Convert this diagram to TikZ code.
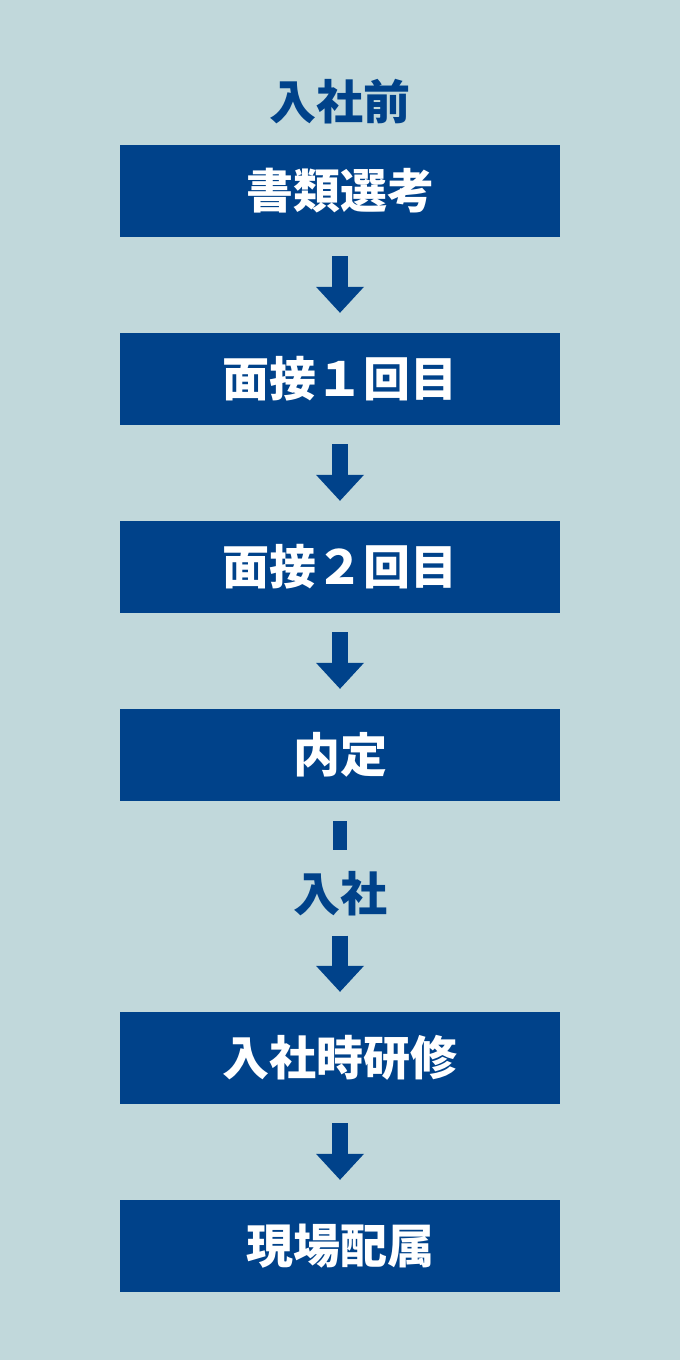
\documentclass[tikz,border=0pt]{standalone}
\usepackage{fontspec}
\setmainfont{Noto Sans CJK JP}
\usepackage{xcolor}
\usetikzlibrary{arrows.meta}
\definecolor{stepblue}{HTML}{00428A}
\definecolor{paleteal}{HTML}{C1D8DB}

\begin{document}
\begin{tikzpicture}[x=1pt,y=-1pt,font=\fontsize{47}{47}\selectfont\bfseries]
      \fill[paleteal] (0,0) rectangle (680,1360);
      \useasboundingbox (0,0) rectangle (680,1360);

      \begin{scope}[fill=stepblue,text=white,minimum width=440pt,minimum height=92pt,inner sep=0pt]
          \tikzstyle{every node}=[fill=stepblue]
          \node (screen)   at (340,191)   {書類選考};
          \node (intv1)    at (340,379)   {面接１回目};
          \node (intv2)    at (340,567)   {面接２回目};
          \node (offer)    at (340,755)   {内定};
          \node (train)    at (340,1058)  {入社時研修};
          \node (assign)   at (340,1246)  {現場配属};
      \end{scope}

      \begin{scope}[text=stepblue,inner sep=0pt,minimum height=44pt]
          \node (before)   at (340,102)   {入社前};
          \node (join)     at (340,894)   {入社};
      \end{scope}

      \tikzstyle{flow}=[stepblue,line width=16pt,shorten <=19pt,shorten >=20pt,-{Triangle[width=48pt,length=26pt,line width=0pt]}]

      \draw[flow]     (screen)  -- (intv1);
      \draw[flow]     (intv1)   -- (intv2);
      \draw[flow]     (intv2)   -- (offer);
      \draw[stepblue,line width=14pt,shorten <=20pt,shorten >=21pt] (offer) -- (join);
      \draw[flow]     (join)    -- (train);
      \draw[flow]     (train)   -- (assign);
  \end{tikzpicture}
\end{document}
